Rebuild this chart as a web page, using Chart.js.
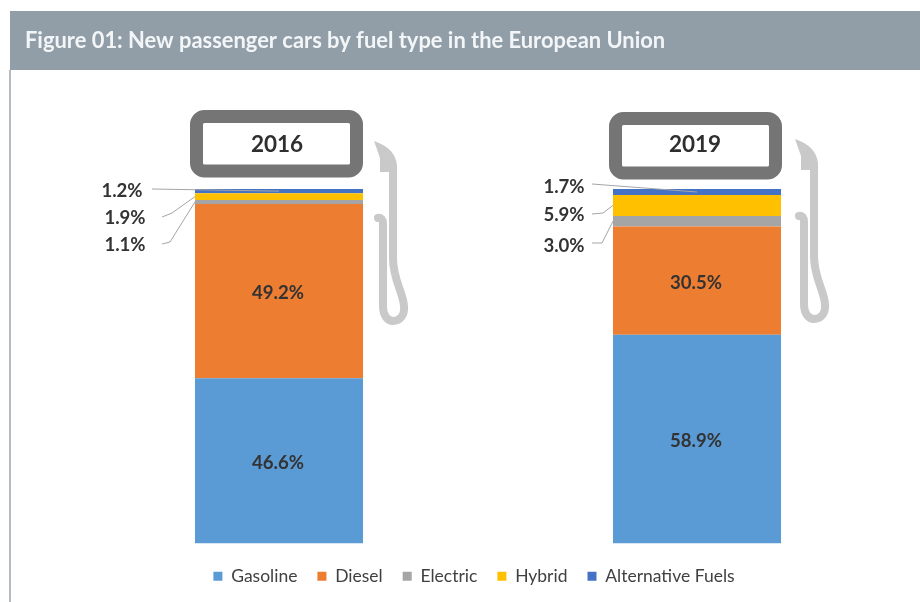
<!DOCTYPE html>
<html>
<head>
<meta charset="utf-8">
<style>
  html, body { margin: 0; padding: 0; background: #fff; }
  canvas { display: block; }
</style>
<script src="https://cdn.jsdelivr.net/npm/chart.js@4"></script>
</head>
<body>
<canvas id="chart" width="920" height="602"></canvas>
<script>
const heading = 'Figure 01: New passenger cars by fuel type in the European Union';
const years = ['2016', '2019'];
const gasoline = [46.6, 58.9];
const diesel = [49.2, 30.5];
const electric = [1.1, 3.0];
const hybrid = [1.9, 5.9];
const alternativeFuels = [1.2, 1.7];

const FONT = 'Lato, "Open Sans", sans-serif';
const INK = '#333333';

// Callout label placement for the thin segments, per year and dataset index.
const callouts = [
  { 4: { x: 122, y: 191, lx: 152, ly: 189, bend: null, toCentre: true },
    3: { x: 125, y: 218, lx: 162, ly: 217, bend: [172, 213] },
    2: { x: 125, y: 245, lx: 162, ly: 244, bend: [170, 242] } },
  { 4: { x: 564, y: 187, lx: 592, ly: 184, bend: null, toCentre: true },
    3: { x: 564, y: 215, lx: 592, ly: 214, bend: [603, 213] },
    2: { x: 564, y: 246, lx: 592, ly: 243, bend: [602, 243] } }
];

// Pump head frame and nozzle, one set per year.
const pumps = [
  { frame: [196.5, 116.5, 160, 54.5], labelX: 277, labelY: 145, nx: 0, ny: 0 },
  { frame: [615.5, 118.5, 160, 54.5], labelX: 695, labelY: 145, nx: 421, ny: -2 }
];

function drawNozzle(ctx, dx, dy) {
  ctx.save();
  ctx.translate(dx, dy);
  ctx.fillStyle = '#c9c9c9';
  ctx.strokeStyle = '#c9c9c9';
  ctx.beginPath();
  ctx.moveTo(374, 141);
  ctx.quadraticCurveTo(395, 148, 397, 165);
  ctx.lineTo(397, 172);
  ctx.lineTo(380, 172);
  ctx.lineTo(380, 158);
  ctx.closePath();
  ctx.fill();
  ctx.lineWidth = 8;
  ctx.lineCap = 'round';
  ctx.lineJoin = 'round';
  ctx.beginPath();
  ctx.moveTo(378, 218);
  ctx.quadraticCurveTo(383, 217, 383, 224);
  ctx.lineTo(383, 306);
  ctx.bezierCurveTo(383, 316, 388, 321, 393, 321);
  ctx.bezierCurveTo(400, 321, 405, 315, 404, 306);
  ctx.bezierCurveTo(403, 292, 393, 280, 393, 258);
  ctx.lineTo(393, 170);
  ctx.stroke();
  ctx.restore();
}

const panelAndPumps = {
  id: 'panelAndPumps',
  beforeDraw(chart) {
    const ctx = chart.ctx;
    ctx.save();
    ctx.fillStyle = '#ffffff';
    ctx.fillRect(0, 0, chart.width, chart.height);
    ctx.fillStyle = '#b4babf';
    ctx.fillRect(9, 70, 2, chart.height - 70);
    ctx.fillStyle = '#929ea7';
    ctx.fillRect(10, 11, chart.width - 10, 59);
    ctx.fillStyle = '#f3f6f8';
    ctx.font = 'bold 21.9px ' + FONT;
    ctx.textAlign = 'left';
    ctx.textBaseline = 'middle';
    ctx.fillText(heading, 25, 41);

    pumps.forEach((pump, i) => {
      drawNozzle(ctx, pump.nx, pump.ny);
      ctx.strokeStyle = '#757575';
      ctx.lineWidth = 13;
      ctx.beginPath();
      ctx.roundRect(pump.frame[0], pump.frame[1], pump.frame[2], pump.frame[3], 8);
      ctx.stroke();
      ctx.fillStyle = '#2f2f2f';
      ctx.font = 'bold 22.5px ' + FONT;
      ctx.textAlign = 'center';
      ctx.fillText(years[i], pump.labelX, pump.labelY);
    });
    ctx.restore();
  }
};

const valueLabels = {
  id: 'valueLabels',
  afterDatasetsDraw(chart) {
    const ctx = chart.ctx;
    ctx.save();
    ctx.textBaseline = 'middle';
    ctx.font = 'bold 18.6px ' + FONT;
    ctx.fillStyle = INK;
    chart.data.datasets.forEach((ds, d) => {
      chart.getDatasetMeta(d).data.forEach((bar, i) => {
        const text = ds.data[i].toFixed(1) + '%';
        const mid = (bar.y + bar.base) / 2;
        const call = callouts[i][d];
        if (!call) {
          ctx.textAlign = 'center';
          ctx.fillText(text, bar.x - 1, mid + 2);
          return;
        }
        ctx.strokeStyle = '#a6a6a6';
        ctx.lineWidth = 1;
        ctx.beginPath();
        ctx.moveTo(call.lx, call.ly);
        if (call.bend) ctx.lineTo(call.bend[0], call.bend[1]);
        ctx.lineTo(call.toCentre ? bar.x : bar.x - bar.width / 2, mid);
        ctx.stroke();
        ctx.textAlign = 'center';
        ctx.fillText(text, call.x, call.y);
      });
    });
    ctx.restore();
  }
};

const nudgeLegend = {
  id: 'nudgeLegend',
  afterLayout(chart) {
    chart.legend.left -= 14;
    chart.legend.right -= 14;
    chart.legend.top += 4;
    chart.legend.bottom += 4;
  }
};

function fuelSeries(label, data, color) {
  return { label, data, backgroundColor: color, borderWidth: 0,
           barPercentage: 1, categoryPercentage: 0.402 };
}

new Chart(document.getElementById('chart'), {
  type: 'bar',
  data: {
    labels: years,
    datasets: [
      fuelSeries('Gasoline', gasoline, '#5b9bd5'),
      fuelSeries('Diesel', diesel, '#ed7d31'),
      fuelSeries('Electric', electric, '#a5a5a5'),
      fuelSeries('Hybrid', hybrid, '#ffc000'),
      fuelSeries('Alternative Fuels', alternativeFuels, '#4472c4')
    ]
  },
  plugins: [panelAndPumps, valueLabels, nudgeLegend],
  options: {
    responsive: false,
    animation: false,
    layout: { padding: { left: 70, right: 14, top: 189, bottom: 11 } },
    scales: {
      x: { stacked: true, display: false },
      y: { stacked: true, display: false, min: 0, max: 100 }
    },
    plugins: {
      tooltip: { enabled: false },
      title: { display: false },
      legend: {
        position: 'bottom',
        labels: {
          color: '#404040',
          font: { family: FONT, size: 17.5 },
          boxWidth: 9,
          boxHeight: 9,
          padding: 20
        }
      }
    }
  }
});
</script>
</body>
</html>
